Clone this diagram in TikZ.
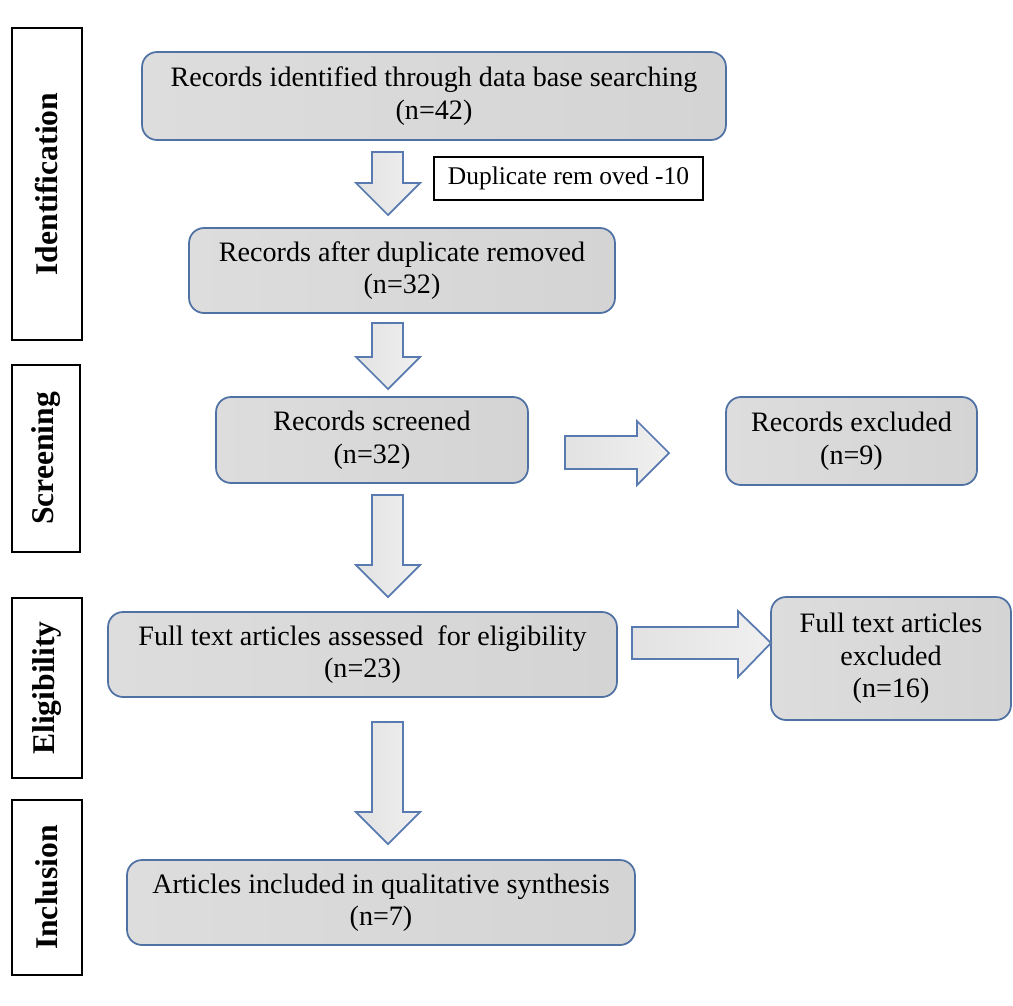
\documentclass[tikz,border=0pt]{standalone}
\usepackage{fontspec}
\setmainfont{Liberation Serif}
\definecolor{boxline}{RGB}{79,113,163}
\definecolor{arrowline}{RGB}{88,122,176}
\definecolor{shadeL}{RGB}{221,221,221}
\definecolor{shadeM}{RGB}{250,250,250}
\definecolor{shadeR}{RGB}{212,212,212}
\definecolor{arrowL}{RGB}{226,226,226}
\definecolor{arrowR}{RGB}{240,240,240}

\begin{document}
\begin{tikzpicture}[x=0.02cm,y=-0.02cm,
  box/.style={draw=boxline, line width=1pt, rounded corners=0.3cm,
    left color=shadeL, middle color=shadeM, right color=shadeR,
    align=center, inner sep=0pt, font=\fontsize{16}{18.5}\selectfont},
  stage/.style={draw=black, line width=1.1pt, rotate=90, inner sep=0pt,
    font=\fontsize{18}{20}\selectfont\bfseries},
  blockarrow/.style={draw=arrowline, line width=1pt, line join=miter,
    left color=arrowL, middle color=white, right color=arrowR}]
  \useasboundingbox (0,0) rectangle (1013,1005);

  % stages
  \node[stage, minimum width=6.24cm, minimum height=1.4cm] (ident) at (47,184) {Identification};
  \node[stage, minimum width=3.74cm, minimum height=1.36cm] (screen) at (46,458.5) {Screening};
  \node[stage, minimum width=3.6cm, minimum height=1.4cm] (elig) at (47,688) {Eligibility};
  \node[stage, minimum width=3.5cm, minimum height=1.4cm] (incl) at (47,887.5) {Inclusion};

  % boxes
  \node[box, minimum width=11.68cm, minimum height=1.76cm] (found) at (434,96)
    {Records identified through data base searching\\(n=42)};
  \node[draw=black, line width=0.7pt, minimum width=5.38cm, minimum height=0.86cm,
    inner sep=0pt, font=\fontsize{14.5}{16}\selectfont] (dup) at (568.5,178.5) {Duplicate rem oved -10};
  \node[box, minimum width=8.52cm, minimum height=1.7cm] (afterdup) at (402,270.5)
    {Records after duplicate removed\\(n=32)};
  \node[box, minimum width=6.24cm, minimum height=1.72cm] (screened) at (372,440)
    {Records screened\\(n=32)};
  \node[box, minimum width=5.02cm, minimum height=1.76cm] (recexcl) at (851.5,441)
    {Records excluded\\(n=9)};
  \node[box, minimum width=10.18cm, minimum height=1.7cm] (fulltext) at (362.5,654.5)
    {Full text articles assessed \ for eligibility\\(n=23)};
  \node[box, minimum width=4.8cm, minimum height=2.46cm] (ftexcl) at (891,658.5)
    {Full text articles\\excluded\\(n=16)};
  \node[box, minimum width=10.16cm, minimum height=1.7cm] (included) at (381,902.5)
    {Articles included in qualitative synthesis\\(n=7)};

  % block arrows
  \draw[blockarrow] (372,152) -- (403,152) -- (403,183) -- (420,183) -- (388,215)
    -- (356,183) -- (372,183) -- cycle;
  \draw[blockarrow] (372,323) -- (403,323) -- (403,357) -- (420,357) -- (388,389)
    -- (356,357) -- (372,357) -- cycle;
  \draw[blockarrow] (372,495) -- (403,495) -- (403,565) -- (420,565) -- (388,597)
    -- (356,565) -- (372,565) -- cycle;
  \draw[blockarrow] (372,722) -- (403,722) -- (403,812) -- (420,812) -- (388,844)
    -- (356,812) -- (372,812) -- cycle;
  \draw[blockarrow] (565,436) -- (637,436) -- (637,421) -- (669,453) -- (637,485)
    -- (637,469) -- (565,469) -- cycle;
  \draw[blockarrow] (632,627) -- (738,627) -- (738,611) -- (771,643) -- (738,677)
    -- (738,659) -- (632,659) -- cycle;
\end{tikzpicture}
\end{document}
